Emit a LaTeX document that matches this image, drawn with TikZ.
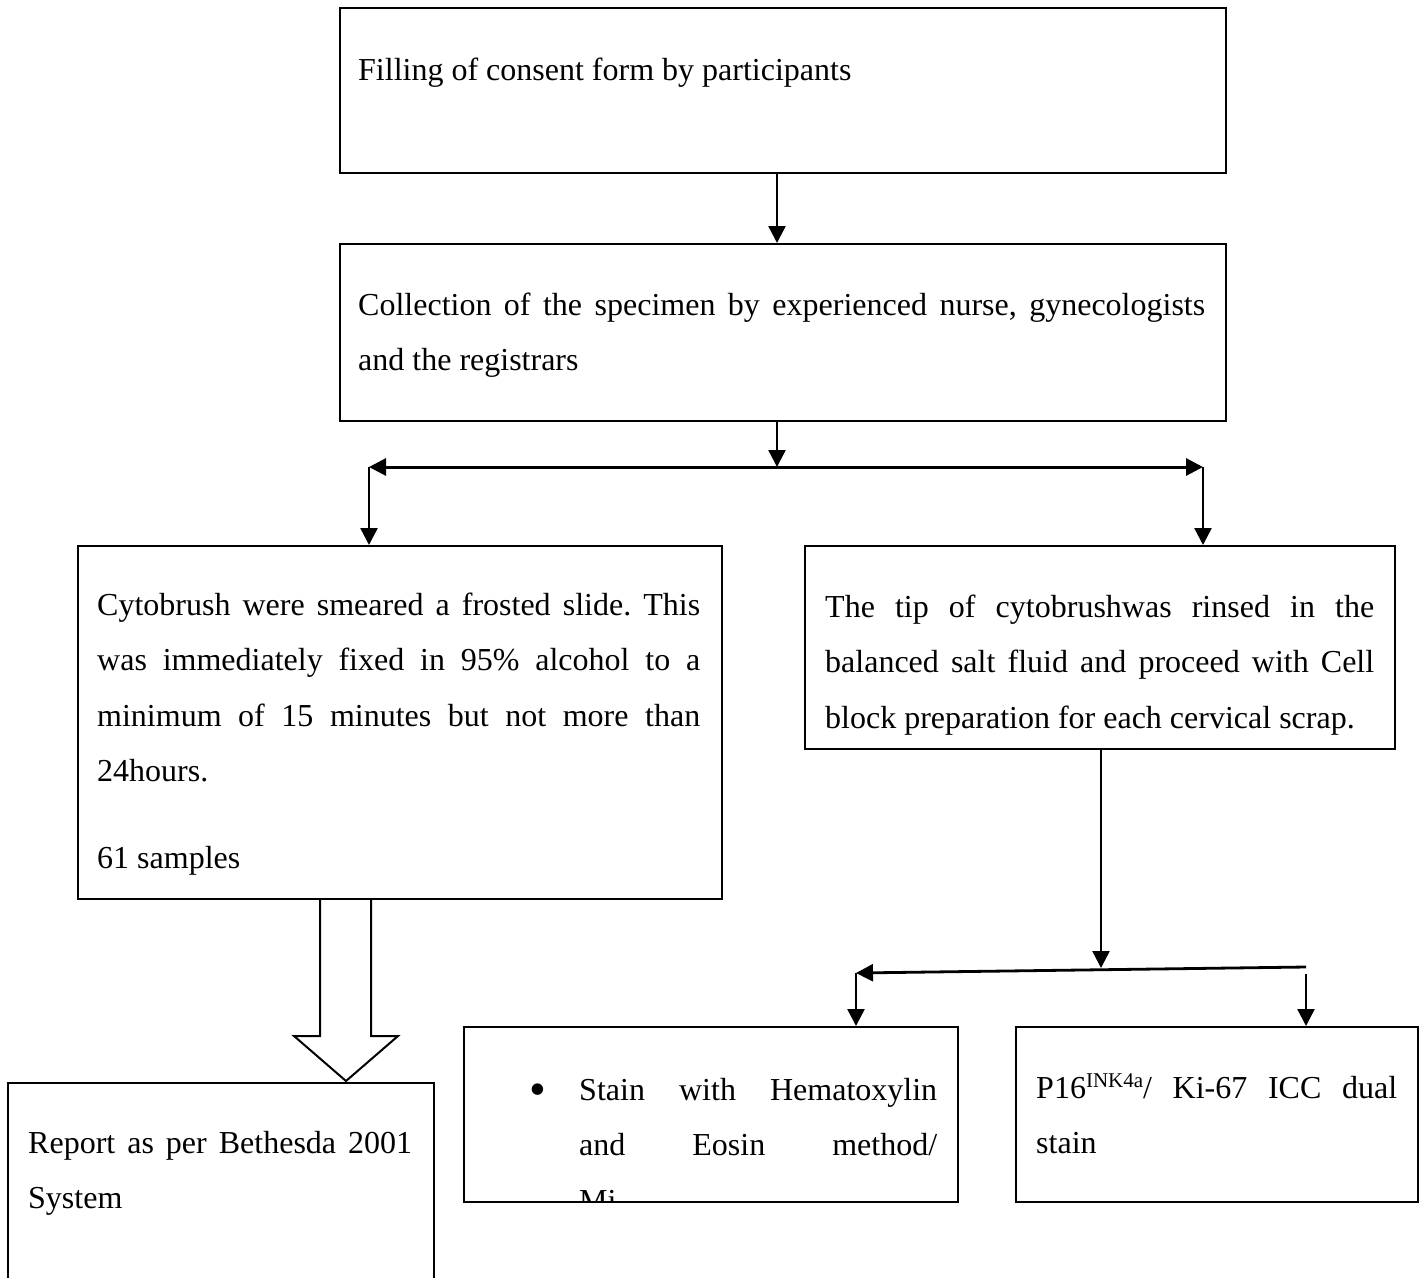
\documentclass[tikz,border=0pt]{standalone}
\usepackage{fontspec}
\setmainfont{Liberation Serif}
\usetikzlibrary{arrows.meta}
\newcommand{\supx}[1]{\raisebox{11pt}{\fontsize{21}{21}\selectfont #1}}
\newcommand{\bigdot}{\raisebox{-5pt}{\fontsize{48}{48}\selectfont\textbullet}}
\hyphenpenalty=10000
\tolerance=10000
\hbadness=10000
\frenchspacing

\begin{document}
\begin{tikzpicture}[x=1pt,y=-1pt,>={Triangle[length=17pt,width=17pt]},
  every node/.style={inner sep=0pt,font=\fontsize{32}{55.5}\selectfont},
  box/.style={draw,line width=2pt,anchor=north west},
  txt/.style={anchor=base west,align=justify,text width=#1},
  link/.style={->,line width=2.4pt}]
\useasboundingbox (0,0) rectangle (1420,1277);
\clip (0,0) rectangle (1420,1277);

\node[box,minimum width=886,minimum height=165] (consent) at (339,7) {};
\node[anchor=base west] (consent-t) at (358,80) {Filling of consent form by participants};

\node[box,minimum width=886,minimum height=177] (collect) at (339,243) {};
\node[txt=847] (collect-t) at (358,315) {Collection of the specimen by experienced nurse, gynecologists\linebreak and the registrars};

\node[box,minimum width=644,minimum height=353] (smear) at (77,545) {};
\node[txt=603] (smear-t) at (97,615) {Cytobrush were smeared a frosted slide. This\linebreak was immediately fixed in 95\% alcohol to a\linebreak minimum of 15 minutes but not more than\linebreak 24hours.\par\vspace{31pt}61 samples};

\node[box,minimum width=590,minimum height=203] (cellblock) at (804,545) {};
\node[txt=549] (cellblock-t) at (825,617) {The tip of cytobrushwas rinsed in the\linebreak balanced salt fluid and proceed with Cell\linebreak block preparation for each cervical scrap.};

\node[box,minimum width=494,minimum height=175] (hebox) at (463,1026) {};
\begin{scope}
\clip (463,1026) rectangle (957,1200);
\node[txt=358] (hebox-t) at (579,1100) {\llap{\bigdot\hspace{33pt}}Stain with Hematoxylin\linebreak and Eosin method/\linebreak Mi};
\end{scope}

\node[box,minimum width=402,minimum height=175] (dualbox) at (1015,1026) {};
\node[txt=361] (dualbox-t) at (1036,1098) {P16\supx{INK4a}/ Ki-67 ICC dual\linebreak stain};

\node[box,minimum width=426,minimum height=240] (report) at (7,1082) {};
\node[txt=384] (report-t) at (28,1153) {Report as per Bethesda 2001\linebreak System};

\coordinate (fork1) at (777,467);
\coordinate (lft1) at (369,467);
\coordinate (rgt1) at (1203,467);
\coordinate (fork2) at (1101,968);
\coordinate (lft2) at (856,973);
\coordinate (rgt2) at (1306,967);
\coordinate (rgt2b) at (1306,974);

\draw[link] (consent.south -| fork1) -- (collect.north -| fork1);
\draw[link] (collect.south -| fork1) -- (fork1);
\draw[<->,line width=3pt] (lft1) -- (rgt1);
\draw[link] (lft1) -- (lft1 |- smear.north);
\draw[link] (rgt1) -- (rgt1 |- cellblock.north);
\draw[link] (cellblock.south -| fork2) -- (fork2);
\draw[link,line width=2.8pt] (rgt2) -- (lft2);
\draw[link] (lft2) -- (lft2 |- hebox.north);
\draw[link] (rgt2b) -- (rgt2b |- dualbox.north);

\draw[line width=2pt,line join=miter] (320,898) -- (320,1036) -- (294,1036) -- (346,1081) -- (398,1036) -- (371,1036) -- (371,898);
\end{tikzpicture}
\end{document}
